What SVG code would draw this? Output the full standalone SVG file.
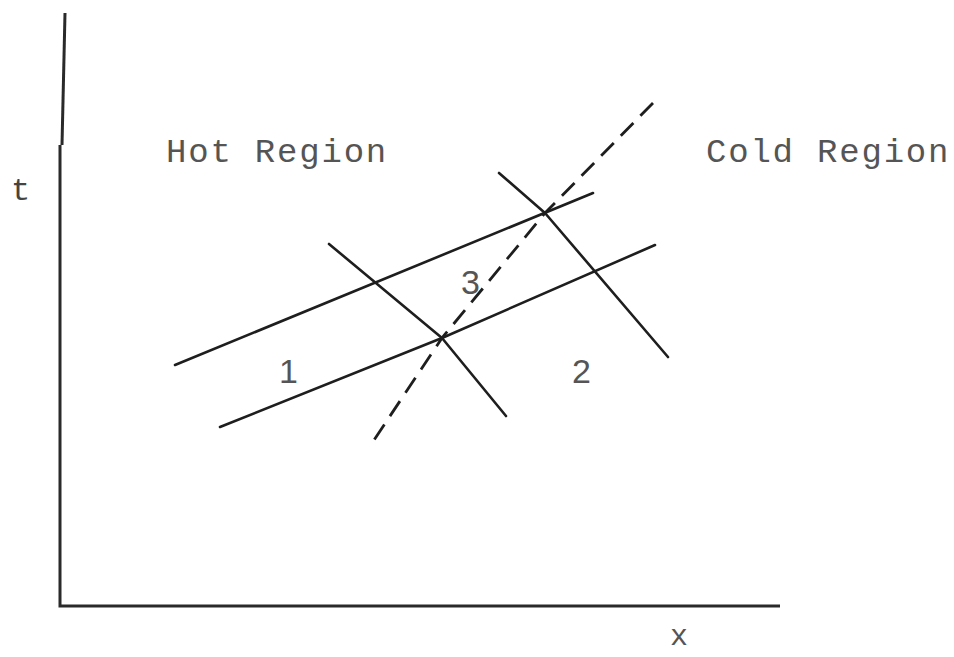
<svg xmlns="http://www.w3.org/2000/svg" width="954" height="657" viewBox="0 0 954 657">
<style>
.ax{stroke:#2a2a2a;stroke-width:3;fill:none}
.ln{stroke:#1e1e1e;stroke-width:2.6;fill:none;stroke-linecap:round;stroke-linejoin:round}
.ds{stroke:#1e1e1e;stroke-width:2.8;fill:none;stroke-dasharray:18 10;stroke-linejoin:round}
.lbl{font-family:"Liberation Mono","Courier New",monospace;font-size:34px;fill:#555;letter-spacing:1.8px}
.num{font-family:"Liberation Sans",Arial,sans-serif;font-size:34px;fill:#555}
</style>
<rect width="954" height="657" fill="#fff"/>
<g id="axes">
<polyline class="ax" points="65,13 62,145"/>
<polyline class="ax" points="60,145 60,606 780,606"/>
</g>
<g id="connectors">
<line class="ln" x1="175" y1="365" x2="593" y2="193"/>
<polyline class="ln" points="220,427 442,338 655,245"/>
<polyline class="ln" points="329,244 442,338 506,416"/>
<polyline class="ln" points="499,173 545,213 668,357"/>
<polyline class="ds" points="653,103 545,213 442,338 370,446"/>
</g>
<g id="hot"><text class="lbl" x="166" y="162">Hot Region</text></g>
<g id="cold"><text class="lbl" x="706" y="162">Cold Region</text></g>
<g id="t"><text class="lbl" x="11" y="200" style="font-size:32px;fill:#444">t</text></g>
<g id="x"><text class="lbl" x="670" y="645" style="font-size:30px">x</text></g>
<g id="n1"><text class="num" x="279" y="383">1</text></g>
<g id="n2"><text class="num" x="572" y="383">2</text></g>
<g id="n3"><text class="num" x="461" y="294">3</text></g>
</svg>
